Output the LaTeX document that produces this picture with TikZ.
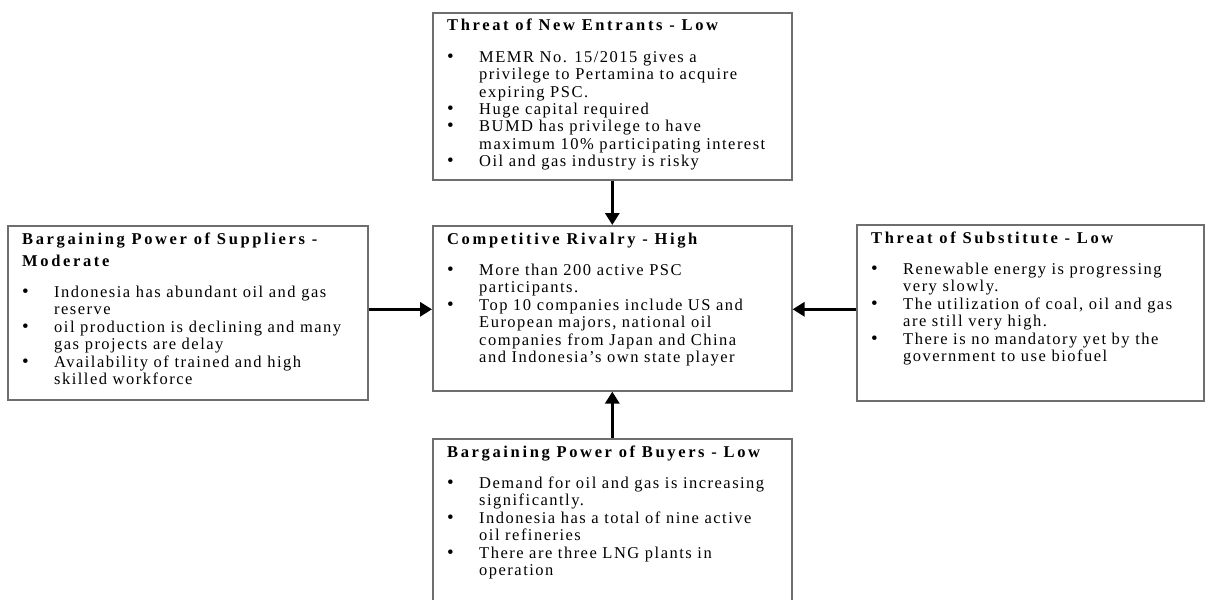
\documentclass[tikz,border=0pt]{standalone}
\usepackage{fontspec}
\setmainfont{Liberation Serif}[LetterSpace=9]
\newfontfamily\titlefam{Liberation Serif}[LetterSpace=16]
\usetikzlibrary{arrows.meta,calc}
\definecolor{boxgray}{RGB}{110,110,110}
\newcommand\tl[1]{\hbox{\titlefam\bfseries #1}}
\newcommand\bul{\makebox[32pt][l]{\fontsize{19pt}{19pt}\selectfont\textbullet}}
\newcommand\bl[1]{\hbox{\bul#1}}
\newcommand\cl[1]{\hbox{\hspace*{32pt}#1}}
\newcommand\gap{\vskip 14pt}
\tikzset{
  fbox/.style={draw=boxgray, line width=1.6pt, rectangle, inner sep=0pt, anchor=north west},
  txt/.style={inner sep=0pt, anchor=base west, font=\fontsize{16.5pt}{17.4pt}\selectfont},
  arr/.style={line width=3.5pt, -{Triangle[width=14pt,length=12pt]}}
}
\begin{document}
\begin{tikzpicture}[x=1pt,y=-1pt]
\useasboundingbox (0,0) rectangle (1206,599);
\clip (0,0) rectangle (1206,599);
% boxes
\node[fbox, minimum width=359pt, minimum height=167pt] (top) at (432,12) {};
\node[fbox, minimum width=360pt, minimum height=174pt] (left) at (7,225) {};
\node[fbox, minimum width=359pt, minimum height=165pt] (mid) at (432,225) {};
\node[fbox, minimum width=347pt, minimum height=176pt] (right) at (856,224) {};
\node[fbox, minimum width=359pt, minimum height=200pt] (bot) at (432,438) {};
% texts
\node[txt] (ttop) at ($(top.north west)+(15,19)$) {\vtop{\baselineskip=17.4pt
  \tl{Threat of New Entrants - Low}\gap
  \bl{MEMR No. 15/2015 gives a}
  \cl{privilege to Pertamina to acquire}
  \cl{expiring PSC.}
  \bl{Huge capital required}
  \bl{BUMD has privilege to have}
  \cl{maximum 10\% participating interest}
  \bl{Oil and gas industry is risky}}};
\node[txt] (tleft) at ($(left.north west)+(15,19)$) {\vtop{\baselineskip=17.4pt
  \tl{Bargaining Power of Suppliers -}\vskip 4.6pt
  \tl{Moderate}\gap
  \bl{Indonesia has abundant oil and gas}
  \cl{reserve}
  \bl{oil production is declining and many}
  \cl{gas projects are delay}
  \bl{Availability of trained and high}
  \cl{skilled workforce}}};
\node[txt] (tmid) at ($(mid.north west)+(15,19)$) {\vtop{\baselineskip=17.4pt
  \tl{Competitive Rivalry - High}\gap
  \bl{More than 200 active PSC}
  \cl{participants.}
  \bl{Top 10 companies include US and}
  \cl{European majors, national oil}
  \cl{companies from Japan and China}
  \cl{and Indonesia's own state player}}};
\node[txt] (tright) at ($(right.north west)+(15,19)$) {\vtop{\baselineskip=17.4pt
  \tl{Threat of Substitute - Low}\gap
  \bl{Renewable energy is progressing}
  \cl{very slowly.}
  \bl{The utilization of coal, oil and gas}
  \cl{are still very high.}
  \bl{There is no mandatory yet by the}
  \cl{government to use biofuel}}};
\node[txt] (tbot) at ($(bot.north west)+(15,19)$) {\vtop{\baselineskip=17.4pt
  \tl{Bargaining Power of Buyers - Low}\gap
  \bl{Demand for oil and gas is increasing}
  \cl{significantly.}
  \bl{Indonesia has a total of nine active}
  \cl{oil refineries}
  \bl{There are three LNG plants in}
  \cl{operation}}};
% arrows
\draw[arr] (top.south) -- (mid.north);
\draw[arr] (bot.north) -- (mid.south);
\draw[arr] ($(mid.west -| left.east)+(0,1)$) -- ($(mid.west)+(0,1)$);
\draw[arr] ($(mid.east -| right.west)+(0,1)$) -- ($(mid.east)+(0,1)$);
\end{tikzpicture}
\end{document}
